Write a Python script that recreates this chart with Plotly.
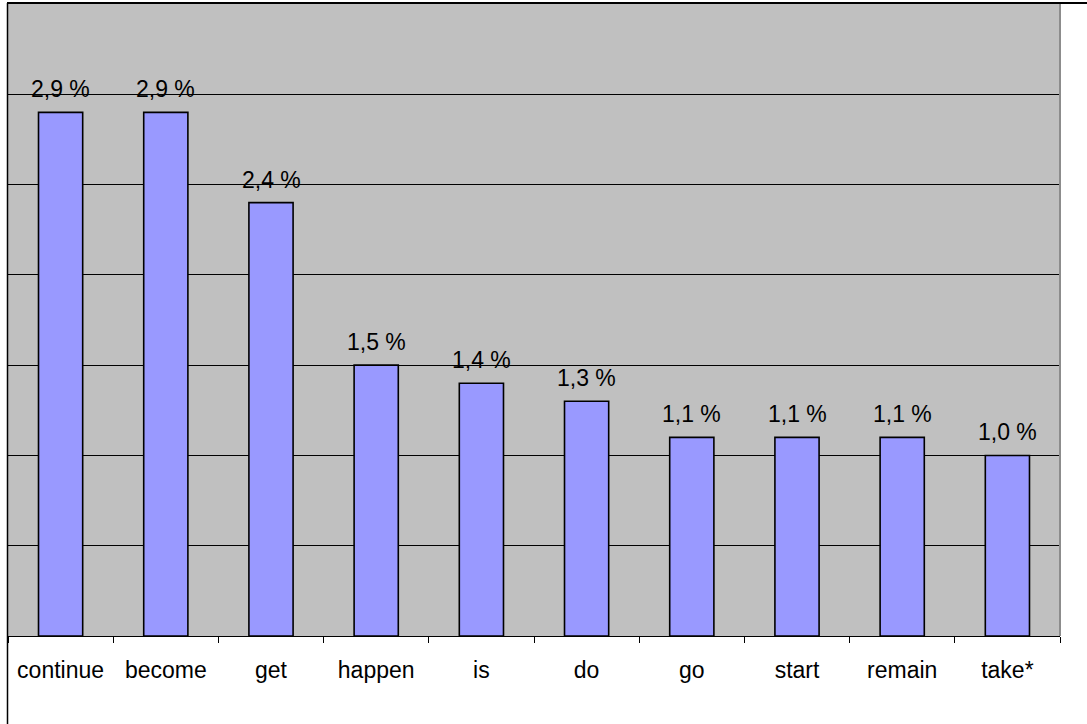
import plotly.graph_objects as go

# Share of verb occurrences (percent)
verbs = ["continue", "become", "get", "happen", "is", "do", "go", "start", "remain", "take*"]
shares = [2.9, 2.9, 2.4, 1.5, 1.4, 1.3, 1.1, 1.1, 1.1, 1.0]

FONT = "Liberation Sans, Arial, sans-serif"
FS = 23
W, H = 1087, 724
ML, MR, MT, MB = 8, 27, 4, 88

fig = go.Figure(
    go.Bar(
        x=verbs,
        y=shares,
        marker=dict(color="#9999FF", line=dict(color="#000000", width=1.6)),
        hoverinfo="skip",
    )
)

# value labels above each bar, decimal comma
for v, s in zip(verbs, shares):
    fig.add_annotation(
        x=v, y=s, xref="x", yref="y",
        text=f"{s:.1f} %".replace(".", ","),
        showarrow=False, yanchor="bottom", yshift=8,
        font=dict(family=FONT, size=FS, color="#000000"),
    )

pw = W - ML - MR
ph = H - MT - MB

def px_x(px):
    return (px - ML) / pw

def px_y(py):
    return (H - MB - py) / ph

# plot-area edge on the right, outer chart frame on the left and top
fig.add_shape(type="line", xref="paper", yref="paper",
              x0=1.0, x1=1.0, y0=0, y1=1, line=dict(color="#8c8c8c", width=2))
fig.add_shape(type="line", xref="paper", yref="paper",
              x0=px_x(7.5), x1=px_x(7.5), y0=px_y(3), y1=px_y(H + 2),
              line=dict(color="#000000", width=1.5))
fig.add_shape(type="line", xref="paper", yref="paper",
              x0=px_x(7), x1=px_x(W + 2), y0=px_y(3), y1=px_y(3),
              line=dict(color="#000000", width=2))

fig.update_layout(
    width=W, height=H,
    margin=dict(l=ML, r=MR, t=MT, b=MB, pad=0),
    paper_bgcolor="#FFFFFF",
    plot_bgcolor="#C0C0C0",
    bargap=0.58,
    showlegend=False,
    font=dict(family=FONT, size=FS, color="#000000"),
    xaxis=dict(
        type="category",
        tickson="boundaries",
        ticks="outside", ticklen=6, tickwidth=1, tickcolor="#000000",
        showline=True, linecolor="#000000", linewidth=1,
        showgrid=False,
        tickfont=dict(family=FONT, size=FS, color="#000000"),
        ticklabelstandoff=13,
    ),
    yaxis=dict(
        range=[0, 3.5], dtick=0.5, tick0=0,
        showticklabels=False, ticks="",
        showgrid=True, gridcolor="#000000", gridwidth=1,
        zeroline=False, showline=False,
    ),
)

fig.write_html("out.html")
